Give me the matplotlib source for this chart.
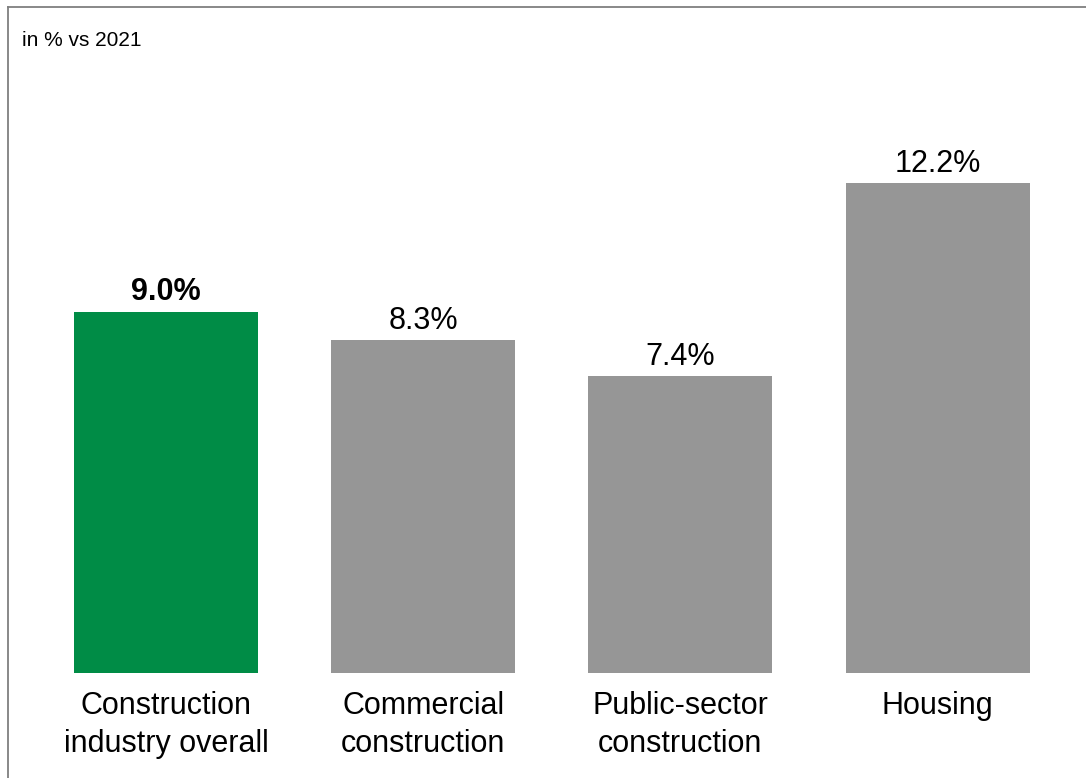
import matplotlib.pyplot as plt
from matplotlib.lines import Line2D

# Werte aus der Grafik
categories = ["Construction\nindustry overall", "Commercial\nconstruction",
              "Public-sector\nconstruction", "Housing"]
values = [9.0, 8.3, 7.4, 12.2]
labels = ["9.0%", "8.3%", "7.4%", "12.2%"]
bar_colors = ["#008C46", "#969696", "#969696", "#969696"]

plt.rcParams['font.family'] = ['Liberation Sans', 'DejaVu Sans']

fig = plt.figure(figsize=(10.86, 7.78), dpi=100)
ax = fig.add_axes([0, 0, 1, 1])
x = list(range(len(values)))
ax.bar(x, values, width=0.715, color=bar_colors)
ax.set_xlim(-0.645, 3.577)
ax.set_ylim(-2.615, 16.76)
ax.axis('off')

for i, (v, lab) in enumerate(zip(values, labels)):
    ax.annotate(lab, xy=(i, v), xytext=(0, 3), textcoords='offset points',
                ha='center', va='bottom', fontsize=22,
                fontweight='bold' if i == 0 else 'normal')
    ax.annotate(categories[i], xy=(i, 0), xytext=(0, -13), textcoords='offset points',
                ha='center', va='top', fontsize=22, linespacing=1.35)

fig.text(22 / 1086, 1 - 41 / 778, "in % vs 2021", fontsize=15, ha='left', va='center')

# Rahmen oben und links
fig.add_artist(Line2D([7.5 / 1086, 7.5 / 1086], [0, 1 - 6.5 / 778], color='#7f7f7f', lw=1.3))
fig.add_artist(Line2D([7.5 / 1086, 1], [1 - 6.5 / 778, 1 - 6.5 / 778], color='#7f7f7f', lw=1.3))

fig.savefig("out.png", dpi=100)
